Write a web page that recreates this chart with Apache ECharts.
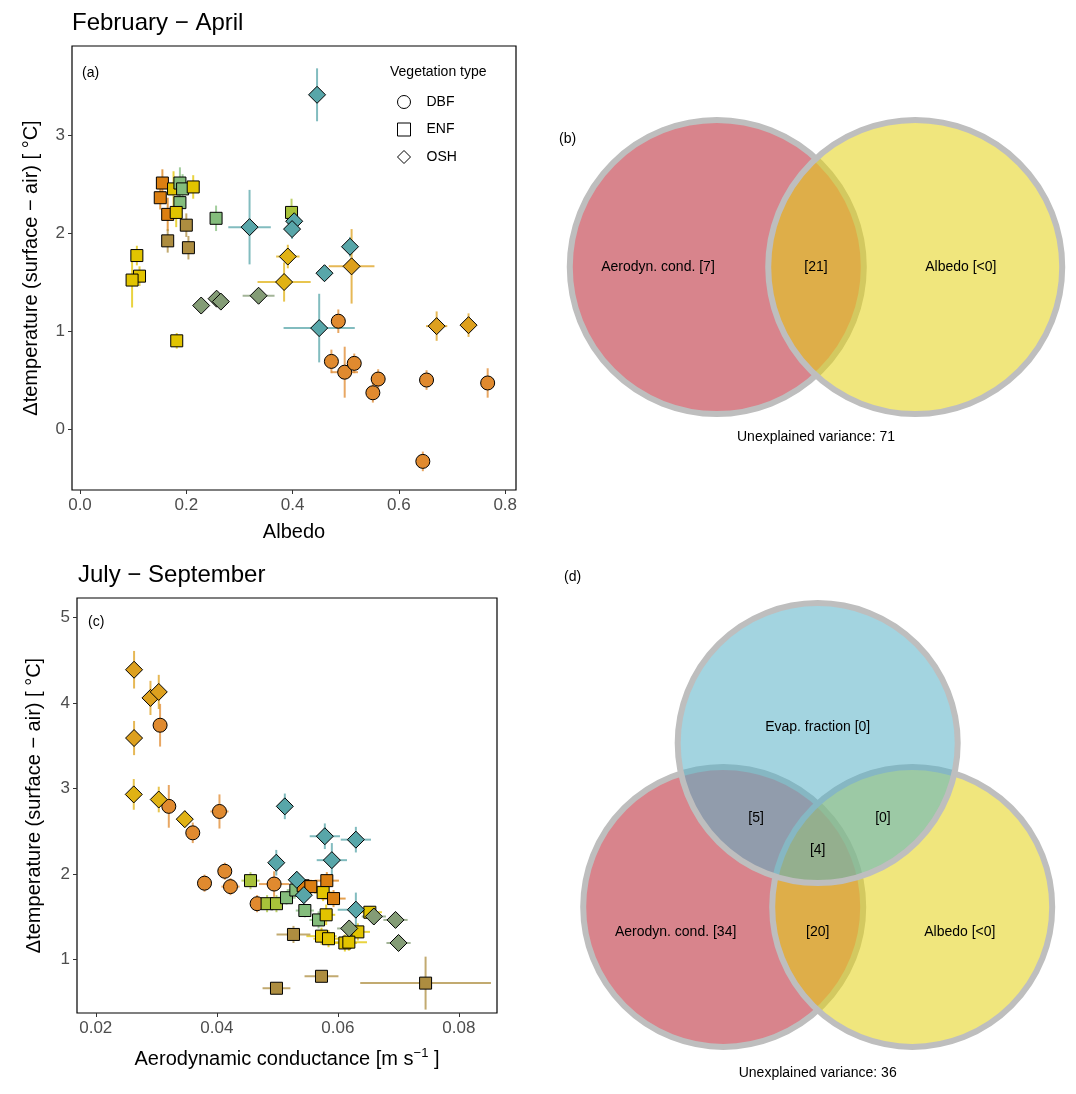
<!DOCTYPE html>
<html>
<head>
<meta charset="utf-8">
<script src="https://cdn.jsdelivr.net/npm/echarts@6/dist/echarts.min.js"></script>
<style>html,body{margin:0;padding:0;background:#fff;}#chart{width:1076px;height:1094px;}</style>
</head>
<body>
<div id="chart"></div>
<script>
// ---------------- DATA ----------------
// Panel (a): February - April, x = Albedo
const aX    = [0.486,0.473,0.498,0.516,0.561,0.551,0.652,0.767,0.645,
               0.155,0.151,0.165,0.176,0.188,0.193,0.213,0.188,0.181,0.200,0.165,0.204,0.256,0.107,0.112,0.098,0.182,0.398,
               0.446,0.319,0.403,0.399,0.391,0.384,0.508,0.460,0.511,0.228,0.257,0.265,0.336,0.450,0.671,0.731];
const aY    = [1.10,0.69,0.58,0.67,0.51,0.37,0.50,0.47,-0.33,
               2.51,2.36,2.19,2.45,2.51,2.45,2.47,2.31,2.21,2.08,1.92,1.85,2.15,1.77,1.56,1.52,0.90,2.21,
               3.41,2.06,2.12,2.04,1.76,1.50,1.86,1.59,1.66,1.26,1.33,1.30,1.36,1.03,1.05,1.06];
const aXErr = [0.012,0.012,0.025,0.012,0.012,0.010,0.010,0.012,0.004,
               0.004,0.004,0.004,0.004,0.004,0.004,0.004,0.004,0.004,0.004,0.004,0.004,0.004,0.004,0.004,0.004,0.003,0.006,
               0.003,0.040,0.006,0.012,0.022,0.050,0.004,0.012,0.043,0.005,0.005,0.005,0.030,0.067,0.020,0.004];
const aYErr = [0.12,0.12,0.26,0.10,0.10,0.10,0.10,0.15,0.10,
               0.14,0.12,0.17,0.18,0.16,0.15,0.12,0.12,0.15,0.12,0.12,0.12,0.13,0.10,0.10,0.28,0.08,0.14,
               0.27,0.38,0.08,0.10,0.12,0.20,0.10,0.08,0.38,0.05,0.05,0.05,0.05,0.35,0.15,0.12];
const aType = ['DBF','DBF','DBF','DBF','DBF','DBF','DBF','DBF','DBF',
               'ENF','ENF','ENF','ENF','ENF','ENF','ENF','ENF','ENF','ENF','ENF','ENF','ENF','ENF','ENF','ENF','ENF','ENF',
               'OSH','OSH','OSH','OSH','OSH','OSH','OSH','OSH','OSH','OSH','OSH','OSH','OSH','OSH','OSH','OSH'];
const aGroup = ['orange','orange','orange','orange','orange','orange','orange','orange','orange',
               'darkorange','darkorange','darkorange','yellow','green','green','yellow','green','yellow','olive','olive','olive','green','yellow','yellow','yellow','yellow','lime',
               'teal','teal','teal','teal','gold','gold','teal','teal','amber','sage','sage','sage','sage','teal','amber','amber'];

// Panel (c): July - September, x = Aerodynamic conductance
const cX    = [0.03063,0.03207,0.03603,0.04044,0.03797,0.04132,0.04226,0.04947,0.04666,
               0.04557,0.04831,0.04986,0.05152,0.05306,0.05427,0.05554,0.05818,0.05757,0.05929,0.05455,0.05681,0.05807,0.06529,0.06331,0.05730,0.05846,0.06116,0.06182,0.05267,0.05730,0.04986,0.07450,
               0.02633,0.02904,0.03041,0.02633,0.02628,0.03041,0.03471,0.05124,0.05785,0.06298,0.05901,0.04983,0.05322,0.05438,0.06298,0.06595,0.06953,0.06188,0.07003];
const cY    = [3.74,2.79,2.48,2.73,1.89,2.03,1.85,1.88,1.65,
               1.92,1.65,1.65,1.72,1.81,1.86,1.85,1.92,1.78,1.71,1.57,1.46,1.52,1.55,1.32,1.27,1.24,1.19,1.20,1.29,0.80,0.66,0.72,
               4.39,4.06,4.13,3.59,2.93,2.87,2.64,2.79,2.44,2.40,2.16,2.13,1.93,1.75,1.58,1.50,1.46,1.36,1.19];
const cXErr = [0.0005,0.0008,0.0010,0.0015,0.0010,0.0010,0.0015,0.0025,0.0010,
               0.0015,0.0010,0.0010,0.0015,0.0015,0.0015,0.0015,0.0020,0.0015,0.0020,0.0015,0.0015,0.0015,0.0020,0.0020,0.0025,0.0025,0.0020,0.0030,0.0028,0.0028,0.0023,0.0108,
               0.0003,0.0003,0.0003,0.0003,0.0008,0.0008,0.0012,0.0008,0.0025,0.0025,0.0025,0.0008,0.0010,0.0010,0.0030,0.0020,0.0020,0.0020,0.0020];
const cYErr = [0.25,0.25,0.12,0.20,0.10,0.10,0.10,0.15,0.10,
               0.10,0.10,0.10,0.08,0.08,0.08,0.08,0.10,0.10,0.10,0.08,0.10,0.12,0.06,0.10,0.10,0.10,0.10,0.10,0.10,0.06,0.06,0.31,
               0.22,0.20,0.20,0.20,0.18,0.15,0.10,0.15,0.15,0.15,0.20,0.15,0.10,0.10,0.20,0.06,0.04,0.04,0.04];
const cType = ['DBF','DBF','DBF','DBF','DBF','DBF','DBF','DBF','DBF',
               'ENF','ENF','ENF','ENF','ENF','ENF','ENF','ENF','ENF','ENF','ENF','ENF','ENF','ENF','ENF','ENF','ENF','ENF','ENF','ENF','ENF','ENF','ENF',
               'OSH','OSH','OSH','OSH','OSH','OSH','OSH','OSH','OSH','OSH','OSH','OSH','OSH','OSH','OSH','OSH','OSH','OSH','OSH'];
const cGroup = ['orange','orange','orange','orange','orange','orange','orange','orange','orange',
               'lime','lime','lime','green','green','darkorange','darkorange','darkorange','yellow','darkorange','green','green','yellow','yellow','yellow','yellow','yellow','yellow','yellow','olive','olive','olive','olive',
               'amber','amber','amber','amber','gold','gold','gold','teal','teal','teal','teal','teal','teal','teal','teal','sage','sage','sage','sage'];

// Tick labels
const aXTicks = [0, 0.2, 0.4, 0.6, 0.8];
const aYTicks = [0, 1, 2, 3];
const cXTicks = [0.02, 0.04, 0.06, 0.08];
const cYTicks = [1, 2, 3, 4, 5];

// Venn diagrams (variance partitioning, %)
const bSetNames = ['Aerodyn. cond.', 'Albedo'];
const bUnique   = ['[7]', '[<0]'];
const bShared   = ['[21]'];
const bUnexplained = 71;

const dSetNames = ['Aerodyn. cond.', 'Albedo', 'Evap. fraction'];
const dUnique   = ['[34]', '[<0]', '[0]'];
const dPairs    = ['[20]', '[5]', '[0]'];   // cond&albedo, cond&evap, albedo&evap
const dTriple   = ['[4]'];
const dUnexplained = 36;

// ---------------- STYLE ----------------
const FONT = '"Liberation Sans", Arial, Helvetica, sans-serif';
const COLORS = {
  orange: '#E08A2F', darkorange: '#DB7F12', yellow: '#E2C400', green: '#84BD7C',
  lime: '#A8C23A', olive: '#AD8D40', teal: '#58A6A9', gold: '#E0B214',
  amber: '#DDA01E', sage: '#849C76'
};
const SYMBOL = { DBF: 'circle', ENF: 'rect', OSH: 'diamond' };
const SYMSIZE = { DBF: 14, ENF: 12, OSH: 17 };
const VENN_FILL = ['rgba(184,31,46,0.55)', 'rgba(228,210,19,0.55)', 'rgba(88,177,199,0.55)'];
// Venn layout in circle-radius units (geometry of the plot)
const bLayout = [[-0.675, 0], [0.675, 0]];
const dLayout = [[-0.675, -0.39], [0.675, -0.39], [0, 0.78]];

// ---------------- BUILD ----------------
function errSeries(X, Y, XE, YE, G, idx) {
  return {
    type: 'custom', xAxisIndex: idx, yAxisIndex: idx, silent: true, z: 2,
    data: X.map((x, i) => [x, Y[i], XE[i], YE[i]]),
    encode: { x: 0, y: 1 },
    renderItem: function (params, api) {
      const x = api.value(0), y = api.value(1), xe = api.value(2), ye = api.value(3);
      const l = api.coord([x - xe, y]), r = api.coord([x + xe, y]);
      const t = api.coord([x, y + ye]), b = api.coord([x, y - ye]);
      const col = COLORS[G[params.dataIndex]];
      return { type: 'group', children: [
        { type: 'line', shape: { x1: l[0], y1: l[1], x2: r[0], y2: r[1] }, style: { stroke: col, lineWidth: 2, opacity: 0.75 } },
        { type: 'line', shape: { x1: t[0], y1: t[1], x2: b[0], y2: b[1] }, style: { stroke: col, lineWidth: 2, opacity: 0.75 } }
      ]};
    }
  };
}
function pointSeries(X, Y, T, G, type, idx) {
  const data = [];
  X.forEach((x, i) => { if (T[i] === type) data.push({ value: [x, Y[i]], itemStyle: { color: COLORS[G[i]] } }); });
  return {
    name: type, type: 'scatter', xAxisIndex: idx, yAxisIndex: idx, z: 3,
    symbol: SYMBOL[type], symbolSize: SYMSIZE[type], data: data,
    itemStyle: { borderColor: '#000', borderWidth: 1, opacity: 1 },
    emphasis: { disabled: true }, silent: true
  };
}
function vennCircles(layout, idx) {
  return {
    type: 'custom', xAxisIndex: idx, yAxisIndex: idx, silent: true, z: 2,
    data: layout.map(p => [p[0], p[1], 1]), encode: { x: 0, y: 1 },
    renderItem: function (params, api) {
      const c = api.coord([api.value(0), api.value(1)]);
      const r = api.size([api.value(2), 0])[0];
      return { type: 'circle', shape: { cx: c[0], cy: c[1], r: r },
        style: { fill: VENN_FILL[params.dataIndex], stroke: '#BEBEBE', lineWidth: 6 } };
    }
  };
}
function vennLabels(items, idx) {
  return {
    type: 'custom', xAxisIndex: idx, yAxisIndex: idx, silent: true, z: 5,
    data: items.map(it => [it[0], it[1]]), encode: { x: 0, y: 1 },
    renderItem: function (params, api) {
      const c = api.coord([api.value(0), api.value(1)]);
      return { type: 'text', x: c[0], y: c[1],
        style: { text: items[params.dataIndex][2], fill: '#000', font: '14px ' + FONT, align: 'center', verticalAlign: 'middle' } };
    }
  };
}

// label positions for Venn regions (relative to layout)
const bLabels = [
  [bLayout[0][0] - 0.40, 0, bSetNames[0] + ' ' + bUnique[0]],
  [0, 0, bShared[0]],
  [bLayout[1][0] + 0.31, 0, bSetNames[1] + ' ' + bUnique[1]],
  [0, -1.155, 'Unexplained variance: ' + bUnexplained]
];
const dLabels = [
  [dLayout[0][0] - 0.34, -0.57, dSetNames[0] + ' ' + dUnique[0]],
  [dLayout[1][0] + 0.34, -0.57, dSetNames[1] + ' ' + dUnique[1]],
  [0, dLayout[2][1] + 0.115, dSetNames[2] + ' ' + dUnique[2]],
  [0, -0.57, dPairs[0]],
  [-0.44, 0.245, dPairs[1]],
  [0.466, 0.245, dPairs[2]],
  [0, 0.016, dTriple[0]],
  [0, -1.58, 'Unexplained variance: ' + dUnexplained]
];

function dataAxis(min, max, ticks, fmt, extra) {
  return Object.assign({
    type: 'value', min: min, max: max,
    axisLine: { show: false, onZero: false },
    axisTick: { show: true, length: 4, lineStyle: { color: '#333', width: 1 }, customValues: ticks },
    axisLabel: { color: '#4D4D4D', fontSize: 17, fontFamily: FONT, margin: 7, customValues: ticks, formatter: fmt },
    splitLine: { show: false },
    nameLocation: 'middle',
    nameTextStyle: { color: '#000', fontSize: 20, fontFamily: FONT }
  }, extra || {});
}
function hiddenAxis(min, max) { return { type: 'value', min: min, max: max, show: false, splitLine: { show: false } }; }

const yName = 'Δtemperature (surface − air) [ °C]';
const option = {
  animation: false,
  backgroundColor: '#fff',
  title: [
    { text: 'February − April', left: 67, top: 6, textStyle: { fontSize: 24, fontWeight: 'normal', color: '#000', fontFamily: FONT } },
    { text: 'July − September', left: 73, top: 558, textStyle: { fontSize: 24, fontWeight: 'normal', color: '#000', fontFamily: FONT } },
    { text: '(a)', left: 77, top: 61, textStyle: { fontSize: 14, fontWeight: 'normal', color: '#000', fontFamily: FONT } },
    { text: '(b)', left: 554, top: 127, textStyle: { fontSize: 14, fontWeight: 'normal', color: '#000', fontFamily: FONT } },
    { text: '(c)', left: 83, top: 610, textStyle: { fontSize: 14, fontWeight: 'normal', color: '#000', fontFamily: FONT } },
    { text: '(d)', left: 559, top: 565, textStyle: { fontSize: 14, fontWeight: 'normal', color: '#000', fontFamily: FONT } },
    { text: 'Vegetation type', left: 385, top: 60, textStyle: { fontSize: 14, fontWeight: 'normal', color: '#000', fontFamily: FONT } }
  ],
  legend: {
    orient: 'vertical', left: 392, top: 90, itemWidth: 13, itemHeight: 13, itemGap: 13.5,
    selectedMode: false,
    textStyle: { fontSize: 14, color: '#000', fontFamily: FONT, padding: [0, 0, 0, 11] },
    data: [
      { name: 'DBF', icon: 'circle', itemStyle: { color: '#fff', borderColor: '#000', borderWidth: 1 } },
      { name: 'ENF', icon: 'rect', itemStyle: { color: '#fff', borderColor: '#000', borderWidth: 1 } },
      { name: 'OSH', icon: 'diamond', itemStyle: { color: '#fff', borderColor: '#000', borderWidth: 1 } }
    ]
  },
  grid: [
    { left: 72, top: 46, width: 444, height: 444, show: true, borderColor: '#000', borderWidth: 1.2, backgroundColor: 'transparent' },
    { left: 77, top: 598, width: 420, height: 415, show: true, borderColor: '#000', borderWidth: 1.2, backgroundColor: 'transparent' },
    { left: 560, top: 107, width: 512, height: 360 },
    { left: 561.7, top: 602.3, width: 512, height: 480 }
  ],
  xAxis: [
    dataAxis(-0.01505, 0.8203, aXTicks, v => v.toFixed(1), { gridIndex: 0, name: 'Albedo', nameGap: 32 }),
    dataAxis(0.0169, 0.0863, cXTicks, v => v.toFixed(2), { gridIndex: 1, name: 'Aerodynamic conductance [m s{sup|−1} ]', nameGap: 34,
      nameTextStyle: { color: '#000', fontSize: 20, fontFamily: FONT, rich: { sup: { fontSize: 13, color: '#000', fontFamily: FONT, verticalAlign: 'bottom', padding: [0, 0, 12, 0] } } } }),
    Object.assign(hiddenAxis(-256 / 147, 256 / 147), { gridIndex: 2 }),
    Object.assign(hiddenAxis(-256 / 140, 256 / 140), { gridIndex: 3 })
  ],
  yAxis: [
    dataAxis(-0.622, 3.908, aYTicks, v => String(v), { gridIndex: 0, name: yName, nameGap: 31 }),
    dataAxis(0.37, 5.23, cYTicks, v => String(v), { gridIndex: 1, name: yName, nameGap: 33 }),
    Object.assign(hiddenAxis(-200 / 147, 160 / 147), { gridIndex: 2 }),
    Object.assign(hiddenAxis(-230 / 140, 250 / 140), { gridIndex: 3 })
  ],
  series: [
    errSeries(aX, aY, aXErr, aYErr, aGroup, 0),
    pointSeries(aX, aY, aType, aGroup, 'DBF', 0),
    pointSeries(aX, aY, aType, aGroup, 'ENF', 0),
    pointSeries(aX, aY, aType, aGroup, 'OSH', 0),
    errSeries(cX, cY, cXErr, cYErr, cGroup, 1),
    pointSeries(cX, cY, cType, cGroup, 'DBF', 1),
    pointSeries(cX, cY, cType, cGroup, 'ENF', 1),
    pointSeries(cX, cY, cType, cGroup, 'OSH', 1),
    vennCircles(bLayout, 2),
    vennLabels(bLabels, 2),
    vennCircles(dLayout, 3),
    vennLabels(dLabels, 3)
  ]
};
const chart = echarts.init(document.getElementById('chart'), null, { renderer: 'canvas' });
chart.setOption(option);
</script>
</body>
</html>
